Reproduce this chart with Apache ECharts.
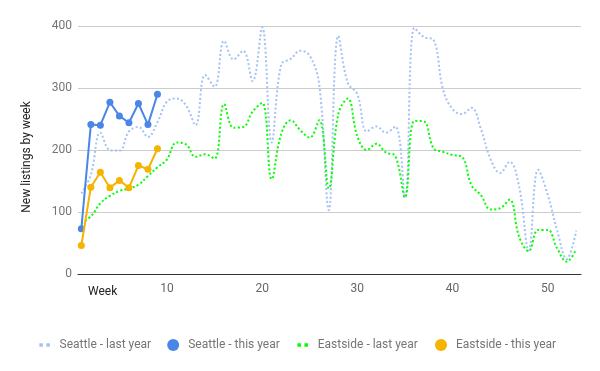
<!DOCTYPE html>
<html>
<head>
<meta charset="utf-8">
<script src="https://cdn.jsdelivr.net/npm/echarts@6/dist/echarts.min.js"></script>
<style>
  html, body { margin: 0; padding: 0; background: #ffffff; }
  #chart { width: 600px; height: 371px; }
</style>
</head>
<body>
<div id="chart"></div>
<script>
const weeks = [1, 2, 3, 4, 5, 6, 7, 8, 9, 10, 11, 12, 13, 14, 15, 16, 17, 18, 19, 20,
  21, 22, 23, 24, 25, 26, 27, 28, 29, 30, 31, 32, 33, 34, 35, 36, 37, 38, 39, 40,
  41, 42, 43, 44, 45, 46, 47, 48, 49, 50, 51, 52, 53];

const seattleLastYear = [130, 160, 228, 200, 199, 230, 237, 221, 245, 278,
  283, 272, 240, 321, 302, 376, 346, 360, 311, 398,
  212, 338, 347, 360, 352, 305, 103, 384, 308, 290,
  230, 238, 228, 238, 122, 397, 382, 378, 298, 266,
  258, 268, 233, 185, 163, 181, 141, 38, 168, 128,
  70, 24, 70];

const seattleThisYear = [73, 241, 240, 277, 255, 244, 275, 241, 290];

const eastsideLastYear = [82, 93, 114, 126, 134, 138, 144, 158, 172, 185,
  212, 209, 189, 193, 186, 274, 236, 237, 262, 276,
  153, 226, 248, 232, 220, 248, 138, 258, 283, 222,
  200, 210, 196, 190, 124, 247, 246, 203, 197, 192,
  189, 143, 127, 104, 106, 120, 60, 37, 71, 71,
  41, 20, 40];

const eastsideThisYear = [46, 140, 164, 139, 151, 139, 175, 169, 202];

const xTickValues = [10, 20, 30, 40, 50];

const seriesNames = ['Seattle - last year', 'Seattle - this year', 'Eastside - last year', 'Eastside - this year'];

function pairs(vals) {
  return vals.map(function (v, i) { return [weeks[i], v]; });
}

const dottedIcon = 'path://M0,0M12,12M0.75,4.25h3.5v3.5h-3.5zM7.75,4.25h3.5v3.5h-3.5z';
const legendIcons = [dottedIcon, 'circle', dottedIcon, 'circle'];
const legendLefts = [38.6, 167.2, 296.7, 435];

function makeLegend(i) {
  return {
    orient: 'horizontal',
    left: legendLefts[i],
    top: 339,
    padding: 0,
    itemGap: 0,
    itemWidth: 20,
    itemHeight: 12,
    symbolKeepAspect: true,
    itemStyle: { borderWidth: 0 },
    textStyle: { color: '#757575', fontSize: 12, fontFamily: 'Roboto' },
    data: [{ name: seriesNames[i], icon: legendIcons[i] }]
  };
}

const chart = echarts.init(document.getElementById('chart'), null, { renderer: 'canvas' });

const option = {
  animation: false,
  textStyle: { fontFamily: 'Roboto' },
  grid: { left: 78, right: 19, top: 26, bottom: 97, containLabel: false },
  xAxis: {
    type: 'value',
    min: 0.65,
    max: 53.5,
    axisLine: { show: true, lineStyle: { color: '#333333', width: 1 } },
    axisTick: { show: false },
    splitLine: { show: false },
    axisLabel: { customValues: xTickValues, color: '#666666', fontSize: 12, margin: 9, fontFamily: 'Roboto' }
  },
  yAxis: {
    type: 'value',
    min: 0,
    max: 400,
    interval: 100,
    axisLine: { show: false },
    axisTick: { show: false },
    splitLine: { lineStyle: { color: '#cccccc', width: 1 } },
    axisLabel: { color: '#757575', fontSize: 12, margin: 6, fontFamily: 'Roboto' }
  },
  legend: [makeLegend(0), makeLegend(1), makeLegend(2), makeLegend(3)],
  graphic: [
    {
      type: 'text',
      left: 88,
      top: 286,
      style: { text: 'Week', fill: '#222222', font: '12px Roboto' }
    },
    {
      type: 'text',
      x: 27,
      y: 157,
      rotation: Math.PI / 2,
      style: { text: 'New listings by week', fill: '#222222', font: '12px Roboto', align: 'center', verticalAlign: 'middle' }
    }
  ],
  series: [
    {
      name: seriesNames[0],
      type: 'line',
      data: pairs(seattleLastYear),
      smooth: 0.4,
      showSymbol: false,
      symbol: 'none',
      z: 2,
      itemStyle: { color: '#a4c2f4' },
      lineStyle: { color: '#a4c2f4', width: 2, type: [2, 2.3] }
    },
    {
      name: seriesNames[1],
      type: 'line',
      data: pairs(seattleThisYear),
      symbol: 'circle',
      symbolSize: 7,
      z: 4,
      itemStyle: { color: '#4a86e8', borderWidth: 0 },
      lineStyle: { color: '#4a86e8', width: 2 }
    },
    {
      name: seriesNames[2],
      type: 'line',
      data: pairs(eastsideLastYear),
      smooth: 0.4,
      showSymbol: false,
      symbol: 'none',
      z: 3,
      itemStyle: { color: '#00ff00' },
      lineStyle: { color: '#00ff00', width: 2, type: [2, 2.3] }
    },
    {
      name: seriesNames[3],
      type: 'line',
      data: pairs(eastsideThisYear),
      symbol: 'circle',
      symbolSize: 7,
      z: 5,
      itemStyle: { color: '#f4b400', borderWidth: 0 },
      lineStyle: { color: '#f4b400', width: 2 }
    }
  ]
};

chart.setOption(option);
</script>
</body>
</html>
